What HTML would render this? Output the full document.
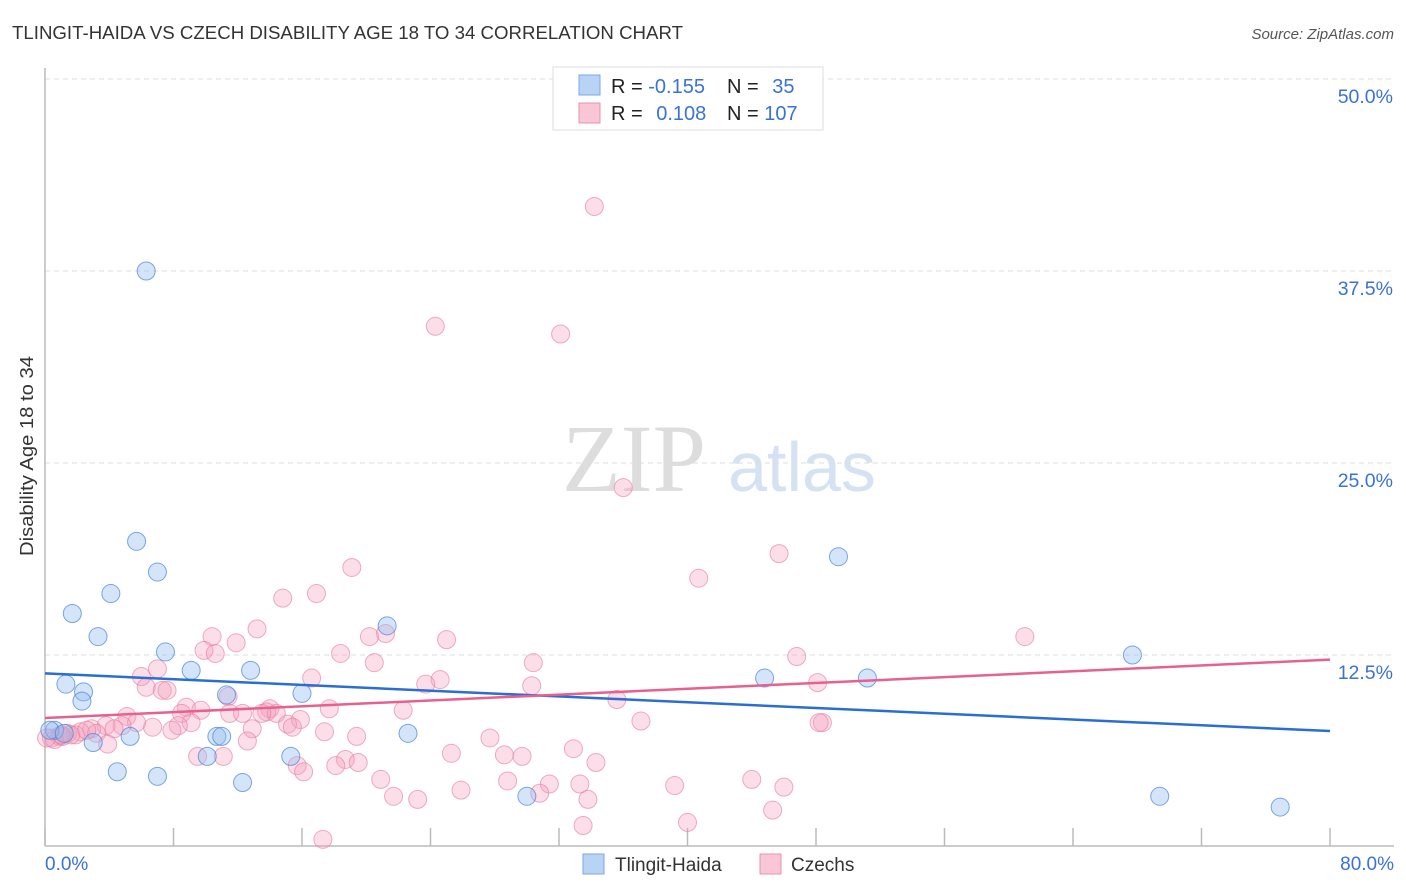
<!DOCTYPE html>
<html><head><meta charset="utf-8"><style>
body{margin:0;background:#fff;font-family:"Liberation Sans",sans-serif;}
svg{display:block}
</style></head><body>
<svg id="chart" width="1406" height="892">
<text x="12" y="39" font-size="18" fill="#333" textLength="671" lengthAdjust="spacingAndGlyphs">TLINGIT-HAIDA VS CZECH DISABILITY AGE 18 TO 34 CORRELATION CHART</text>
<text x="1394" y="39" font-size="15" fill="#555" font-style="italic" text-anchor="end">Source: ZipAtlas.com</text>
<text x="33" y="456" font-size="18" fill="#333" text-anchor="middle" textLength="200" lengthAdjust="spacingAndGlyphs" transform="rotate(-90 33 456)">Disability Age 18 to 34</text>
<g>
<text x="634" y="491" font-size="96" fill="#ddd" font-family="Liberation Serif,serif" text-anchor="middle">ZIP</text>
<text x="802" y="491" font-size="70" fill="#d4e2f4" text-anchor="middle">atlas</text>
</g>
<g id="grid"></g><g id="pts"></g><g id="lines"></g>
<g>
<rect x="553" y="67" width="270" height="63" fill="#fff" stroke="#ddd"/>
<rect x="579" y="75" width="21" height="20" fill="#b8d3f4" stroke="#7aa7e4"/>
<rect x="579" y="103" width="21" height="20" fill="#f9c6d6" stroke="#eb91ae"/>
<text x="611" y="93" font-size="20" fill="#222">R = <tspan fill="#3a72d6">-0.155</tspan></text>
<text x="727" y="93" font-size="20" fill="#222">N = <tspan fill="#3a72d6" dx="8">35</tspan></text>
<text x="611" y="120" font-size="20" fill="#222">R = <tspan fill="#3a72d6" dx="8">0.108</tspan></text>
<text x="727" y="120" font-size="20" fill="#222">N = <tspan fill="#3a72d6">107</tspan></text>
</g>
<g>
<rect x="583" y="854" width="21" height="20" fill="#b8d3f4" stroke="#7aa7e4"/>
<text x="615" y="871" font-size="19" fill="#333">Tlingit-Haida</text>
<rect x="760" y="854" width="21" height="20" fill="#f9c6d6" stroke="#eb91ae"/>
<text x="791" y="871" font-size="19" fill="#333">Czechs</text>
</g>
</svg>
<script>
const blueX=[6.3,5.7,7.0,4.1,1.7,3.3,7.5,21.3,12.8,9.1,1.3,2.4,2.3,16.0,11.3,0.6,3.0,5.3,10.7,11.0,10.1,22.6,15.3,4.5,7.0,12.3,30.0,49.4,44.8,51.2,67.7,69.4,76.9,0.3,1.2];
const blueY=[37.5,19.9,17.9,16.5,15.2,13.7,12.7,14.4,11.5,11.5,10.6,10.1,9.5,10.0,9.9,7.6,6.8,7.2,7.2,7.2,5.9,7.4,5.9,4.9,4.6,4.2,3.3,18.9,11.0,11.0,12.5,3.3,2.6,7.6,7.4];
const pinkX=[34.2,24.3,32.1,36.0,45.7,40.7,19.1,16.9,14.8,61.0,13.2,10.4,11.9,21.2,20.2,25.0,9.9,10.6,18.4,46.8,20.5,30.4,7.0,6.0,16.6,24.6,23.7,48.1,6.3,7.3,7.6,30.3,11.4,35.6,8.8,9.7,8.5,14.0,13.8,14.4,17.7,22.3,11.5,12.3,5.1,13.5,37.1,48.4,48.2,9.1,8.3,15.9,15.1,5.7,6.7,4.8,15.4,3.8,2.9,4.3,7.9,12.9,2.2,1.4,1.9,0.9,0.4,0.6,1.1,1.6,3.2,17.4,19.4,27.7,12.6,3.9,25.3,28.6,29.7,32.9,9.5,11.1,18.7,19.5,18.1,34.3,15.7,16.1,20.9,28.8,31.4,33.3,44.0,39.2,46.0,25.9,21.7,23.2,30.8,33.8,45.3,33.5,40.0,17.3,0.1,2.6,1.0];
const pinkY=[41.7,33.9,33.4,23.4,19.1,17.5,18.2,16.5,16.2,13.7,14.2,13.7,13.3,13.9,13.7,13.5,12.8,12.6,12.6,12.4,12.0,12.0,11.6,11.1,11.0,10.9,10.6,10.7,10.4,10.2,10.2,10.5,9.8,9.6,9.1,8.9,8.7,9.0,8.8,8.7,9.0,8.9,8.7,8.7,8.5,8.7,8.2,8.1,8.1,8.1,7.9,8.3,8.0,8.1,7.8,7.9,7.8,7.9,7.7,7.7,7.6,7.7,7.5,7.4,7.3,7.2,7.1,7.0,7.2,7.3,7.4,7.5,7.2,7.1,6.9,6.7,6.1,6.0,5.9,6.4,5.9,5.9,5.7,5.5,5.3,5.5,5.3,4.9,4.4,4.3,4.1,4.1,4.4,4.0,3.9,3.7,3.3,3.1,3.5,3.1,2.4,1.4,1.6,0.5,7.1,7.6,7.3];
const trendBlue=[11.3,7.55];
const trendPink=[8.4,12.2];
const yTicks=[12.5,25,37.5,50];
const xTickVals=[0,8,16,24,32,40,48,56,64,72,80];
const NS="http://www.w3.org/2000/svg";
const X=v=>45+v/80*1285, Y=v=>847-v/50*768;
function mk(t,a,p){const e=document.createElementNS(NS,t);for(const k in a)e.setAttribute(k,a[k]);p.appendChild(e);return e;}
const g=document.getElementById('grid');
yTicks.forEach(t=>{
 const l=mk('line',{x1:45,x2:1394,y1:Y(t),y2:Y(t),stroke:'#ddd','stroke-dasharray':'5,4'},g);
 
 
 const tx=mk('text',{x:1393,y:Y(t)+24,'font-size':19.5,fill:'#3a72d6','text-anchor':'end'},g);tx.textContent=t.toFixed(1)+'%';
 
 
});
mk('line',{x1:45,x2:45,y1:68,y2:846,stroke:'#bbb','stroke-width':1.5},g);
mk('line',{x1:45,x2:1394,y1:846,y2:846,stroke:'#bbb','stroke-width':1.5},g);
xTickVals.forEach(t=>{const l=mk('line',{x1:X(t),x2:X(t),y1:828,y2:846,stroke:'#bbb','stroke-width':1.5},g);
 
 });
[[0,'start',45],[80,'end',1394]].forEach(([v,a,x])=>{const t=mk('text',{x:x,y:870,'font-size':19,fill:'#3a72d6','text-anchor':a},g);t.textContent=v.toFixed(1)+'%';
 
 });
const p=document.getElementById('pts');
function pts(xs,ys,fill,stroke,name){xs.forEach((x,i)=>{const c=mk('circle',{cx:X(x),cy:Y(ys[i]),r:9,fill:fill,stroke:stroke,'stroke-width':1},p);
 
 });}
pts(pinkX,pinkY,'rgba(244,160,190,0.35)','rgba(230,120,160,0.6)','czechs-point');
pts(blueX,blueY,'rgba(150,190,240,0.4)','rgba(70,130,220,0.7)','tlingit-point');
const L=document.getElementById('lines');
const bl=mk('line',{x1:X(0),y1:Y(trendBlue[0]),x2:X(80),y2:Y(trendBlue[1]),stroke:'#2a6dd6','stroke-width':2.5},L);


const pl=mk('line',{x1:X(0),y1:Y(trendPink[0]),x2:X(80),y2:Y(trendPink[1]),stroke:'#e8608e','stroke-width':2.5},L);


</script>
</body></html>
